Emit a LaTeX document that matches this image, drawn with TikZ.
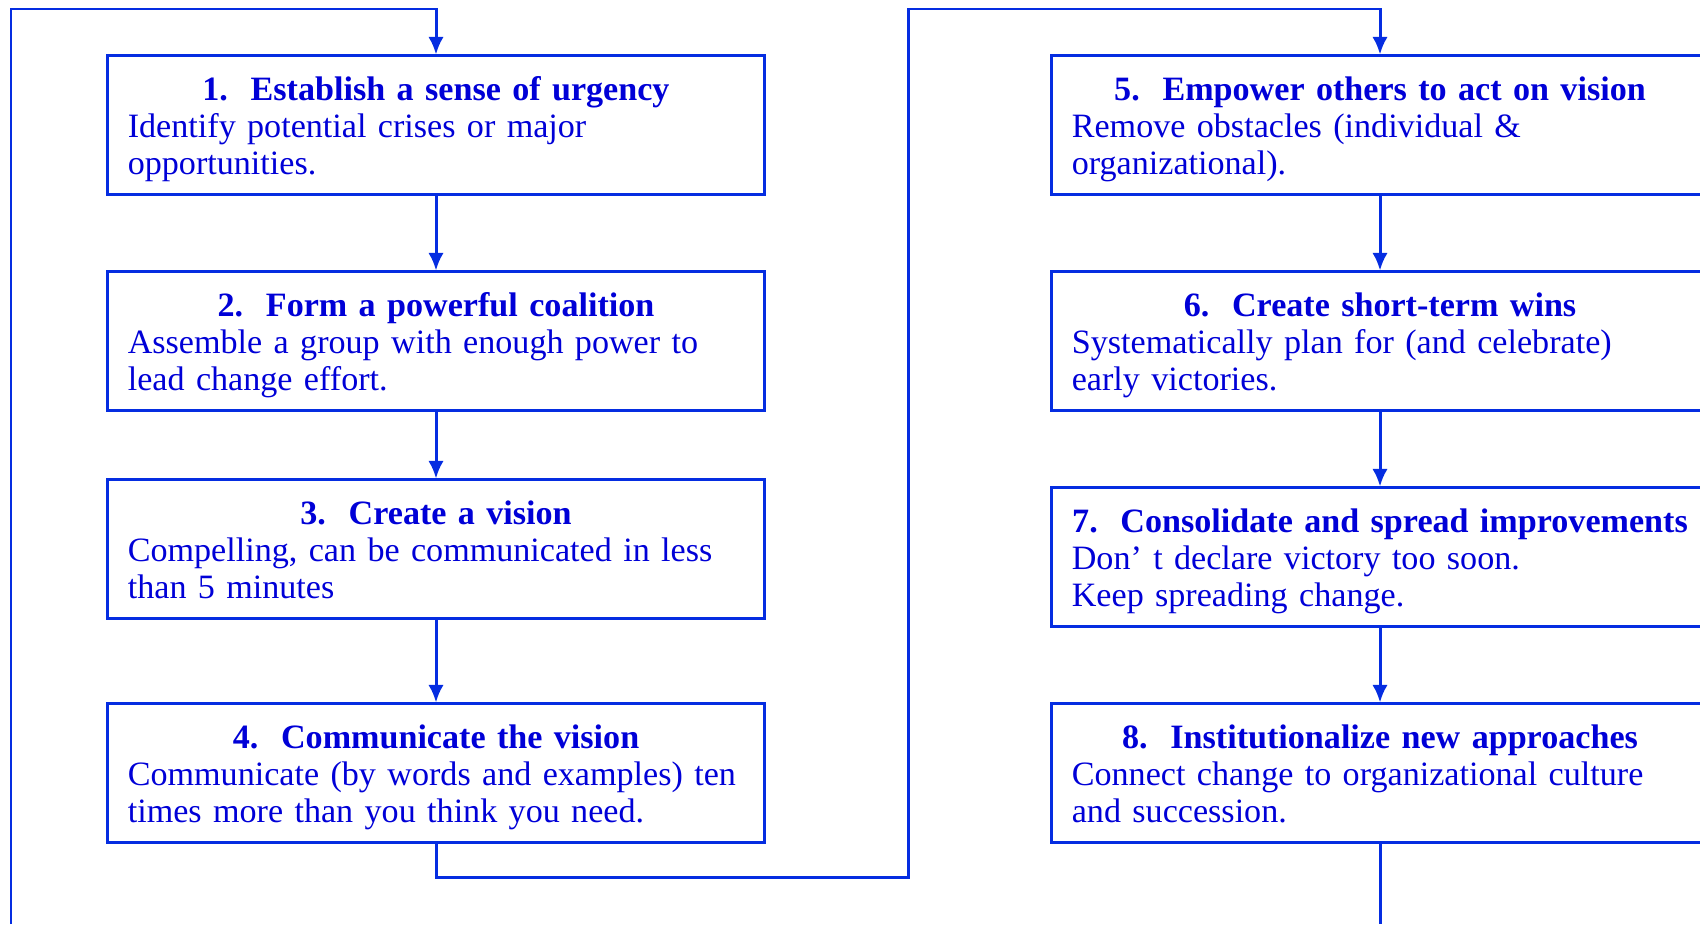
\documentclass[tikz,border=0pt]{standalone}
\usepackage{fontspec}
\setmainfont{Liberation Serif}
\usepackage{tikz}
\usetikzlibrary{arrows.meta}
\definecolor{lineblue}{RGB}{5,45,225}
\definecolor{textblue}{RGB}{0,0,215}
\newcommand{\stagehead}[1]{\makebox[\linewidth][c]{\rule{0pt}{10.3pt}\bfseries #1}}

\begin{document}
\begin{tikzpicture}
  [x=0.01cm,y=-0.01cm,
   stage/.style={draw=lineblue,text=textblue,line width=0.85pt,
     minimum width=6.56cm,minimum height=1.38cm,text width=6.16cm,
     inner xsep=0.2cm,inner ysep=1pt,align=left,execute at end node=\strut,
     font=\fontsize{9.7}{10.6}\selectfont},
   link/.style={draw=lineblue,line width=0.85pt,-{Latex[length=5pt,width=4.4pt]}},
   plain/.style={draw=lineblue,line width=0.85pt}]
  \clip (0,0) rectangle (1700,924);
  \node[stage] (s1) at (436,125) {\stagehead{1.\ \ Establish a sense of urgency}\\Identify potential crises or major\\opportunities.};
  \node[stage] (s2) at (436,341) {\stagehead{2.\ \ Form a powerful coalition}\\Assemble a group with enough power to\\lead change effort.};
  \node[stage] (s3) at (436,549) {\stagehead{3.\ \ Create a vision}\\Compelling, can be communicated in less\\than 5 minutes};
  \node[stage] (s4) at (436,773) {\stagehead{4.\ \ Communicate the vision}\\Communicate (by words and examples) ten\\times more than you think you need.};
  \node[stage] (s5) at (1380,125) {\stagehead{5.\ \ Empower others to act on vision}\\Remove obstacles (individual \&\\organizational).};
  \node[stage] (s6) at (1380,341) {\stagehead{6.\ \ Create short-term wins}\\Systematically plan for (and celebrate)\\early victories.};
  \node[stage] (s7) at (1380,557) {\stagehead{7.\ \ Consolidate and spread improvements}\\Don’ t declare victory too soon.\\Keep spreading change.};
  \node[stage] (s8) at (1380,773) {\stagehead{8.\ \ Institutionalize new approaches}\\Connect change to organizational culture\\and succession.};
  \coordinate (top) at (0,9);
  \coordinate (bot) at (0,877);
  \coordinate (mid) at (908,0);
  \coordinate (in) at (11,924);
  \coordinate (out) at (0,924);
  \foreach \from/\to in {s1/s2,s2/s3,s3/s4,s5/s6,s6/s7,s7/s8}
    \draw[link] (\from) -- (\to);
  \draw[link] (in) |- (s1.north |- top) -- (s1);
  \draw[link] (s4) -- (s4.south |- bot) -| (mid |- top) -- (s5.north |- top) -- (s5);
  \draw[plain] (s8) -- (s8.south |- out);
\end{tikzpicture}
\end{document}
